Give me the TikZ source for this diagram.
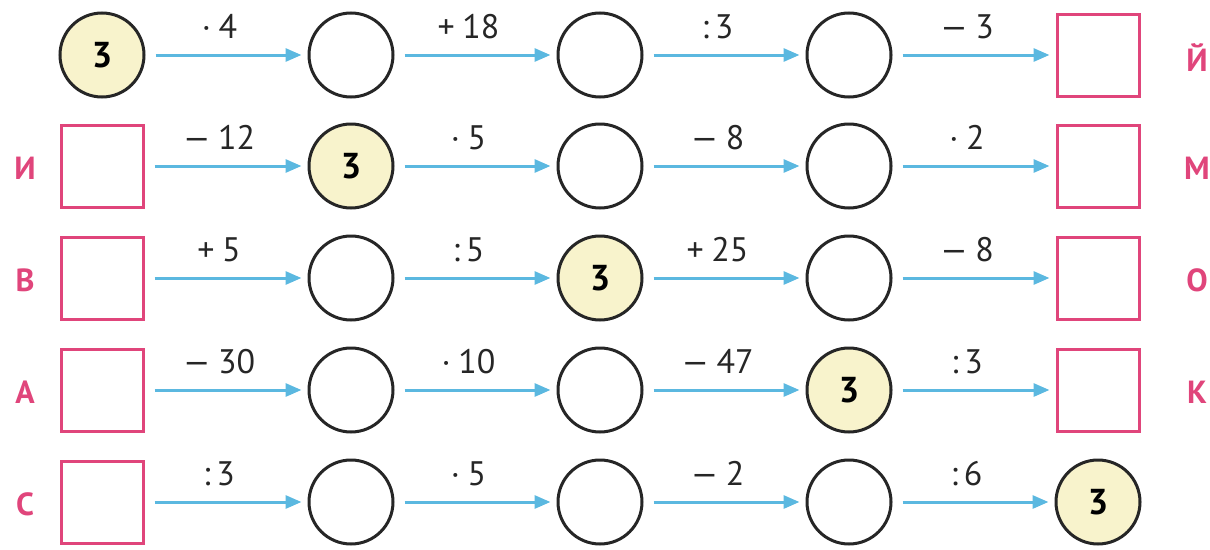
\documentclass[tikz,border=0pt]{standalone}
\usepackage{fontspec}
\setmainfont{PT Sans}
\usetikzlibrary{arrows.meta}
\definecolor{pinkc}{HTML}{E0457B}
\definecolor{bluec}{HTML}{5BB8E0}
\definecolor{yellc}{HTML}{F8F3CC}
\newcommand{\opgap}{\hspace{0.22em}}
\tikzset{
  x=1pt,y=-1pt,
  ring/.style={circle,draw=black!85,line width=3pt,minimum size=84pt,inner sep=0pt,fill=white},
  given/.style={ring,fill=yellc,font=\fontsize{36}{36}\selectfont\bfseries},
  answer/.style={rectangle,draw=pinkc,line width=3pt,minimum size=82pt,inner sep=0pt,fill=white},
  letter/.style={text=pinkc,font=\fontsize{32}{32}\selectfont\bfseries},
  op/.style={font=\fontsize{34}{34}\selectfont,text=black!85,inner sep=0pt},
  link/.style={draw=bluec,line width=3pt,-{Triangle[length=16pt,width=13pt]},shorten <=10pt,shorten >=6pt},
}
\begin{document}
\begin{tikzpicture}
\useasboundingbox (0,0) rectangle (1210,549);
% row 1
\node[given] (a1) at (102,55) {3};
\node[ring] (a2) at (351,55) {};
\node[ring] (a3) at (600,55) {};
\node[ring] (a4) at (849,55) {};
\node[answer] (a5) at (1098,55) {};
\node[letter] (la) at (1197,58) {Й};
% row 2
\node[letter] (lb0) at (25,168) {И};
\node[answer] (b1) at (102,166) {};
\node[given] (b2) at (351,166) {3};
\node[ring] (b3) at (600,166) {};
\node[ring] (b4) at (849,166) {};
\node[answer] (b5) at (1098,166) {};
\node[letter] (lb) at (1197,168) {М};
% row 3
\node[letter] (lc0) at (25,280) {В};
\node[answer] (c1) at (102,278) {};
\node[ring] (c2) at (351,278) {};
\node[given] (c3) at (600,278) {3};
\node[ring] (c4) at (849,278) {};
\node[answer] (c5) at (1098,278) {};
\node[letter] (lc) at (1197,280) {О};
% row 4
\node[letter] (ld0) at (25,392) {А};
\node[answer] (d1) at (102,390) {};
\node[ring] (d2) at (351,390) {};
\node[ring] (d3) at (600,390) {};
\node[given] (d4) at (849,390) {3};
\node[answer] (d5) at (1098,390) {};
\node[letter] (ld) at (1197,392) {К};
% row 5
\node[letter] (le0) at (25,504) {С};
\node[answer] (e1) at (102,502) {};
\node[ring] (e2) at (351,502) {};
\node[ring] (e3) at (600,502) {};
\node[ring] (e4) at (849,502) {};
\node[given] (e5) at (1098,502) {3};
% arrows and labels
\foreach \r/\la/\lb/\lc/\ld in {a/{·\opgap4}/{+\opgap18}/{:\,3}/{—\opgap3},
                               b/{—\opgap12}/{·\opgap5}/{—\opgap8}/{·\opgap2},
                               c/{+\opgap5}/{:\,5}/{+\opgap25}/{—\opgap8},
                               d/{—\opgap30}/{·\opgap10}/{—\opgap47}/{:\,3},
                               e/{:\,3}/{·\opgap5}/{—\opgap2}/{:\,6}}{
  \path[link] (\r1) -- node[op,above=15pt,xshift=-7pt] {\la} (\r2);
  \path[link] (\r2) -- node[op,above=15pt,xshift=-7pt] {\lb} (\r3);
  \path[link] (\r3) -- node[op,above=15pt,xshift=-7pt] {\lc} (\r4);
  \path[link] (\r4) -- node[op,above=15pt,xshift=-7pt] {\ld} (\r5);
}
\end{tikzpicture}
\end{document}
